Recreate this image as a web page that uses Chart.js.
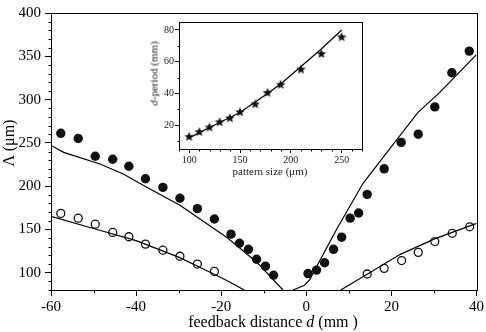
<!DOCTYPE html>
<html>
<head>
<meta charset="utf-8">
<script src="https://cdn.jsdelivr.net/npm/chart.js@4/dist/chart.umd.min.js"></script>
<style>
body { margin: 0; background: #fff; }
#wrap { position: relative; width: 486px; height: 332px; font-family: 'Liberation Serif', serif; color: #000; }
#inset { position: absolute; left: 145px; top: 15px; }
.lbl { position: absolute; white-space: nowrap; text-align: center; }
</style>
</head>
<body>
<div id="wrap">
  <canvas id="main" width="486" height="332"></canvas>
  <canvas id="inset" width="225" height="165"></canvas>
  <div class="lbl" style="left:173px;top:313px;width:200px;font-size:16px;line-height:18px">feedback distance <i>d</i> (mm )</div>
  <div class="lbl" style="left:-31px;top:134px;width:80px;font-size:16px;line-height:18px;transform:rotate(-90deg)">Λ (μm)</div>
  <div class="lbl" style="left:109px;top:67px;width:90px;font-size:11px;line-height:13px;color:#222;transform:rotate(-90deg)"><i>d</i>-period (mm)</div>
  <div class="lbl" style="left:220px;top:165px;width:100px;font-size:11px;line-height:13px;color:#222">pattern size (μm)</div>
</div>
<script>
// measured points, filled circles
var filledX = [-57.7, -53.6, -49.6, -45.5, -41.7, -37.8, -33.7, -29.7, -25.6, -21.6, -17.7, -15.7, -13.6, -11.7, -9.6, -7.7,
               0.4, 2.4, 4.3, 6.4, 8.3, 10.3, 12.3, 14.3, 18.3, 22.3, 26.3, 30.2, 34.2, 38.3];
var filledY = [261, 255, 234.5, 231, 223, 208.5, 198.5, 186, 174, 162, 144.5, 134, 127, 115.5, 107.5, 97,
               99, 103, 111.5, 127, 141, 163, 169, 190.5, 220, 250.5, 260, 291.5, 331, 356];

// open circles
var openX = [-57.7, -53.6, -49.6, -45.5, -41.7, -37.8, -33.7, -29.7, -25.6, -21.6,
             14.3, 18.3, 22.4, 26.3, 30.2, 34.3, 38.4];
var openY = [168.5, 163, 156, 146.5, 141.5, 133, 126, 119, 110, 101.5,
             98.5, 105, 114, 123.5, 136, 145.5, 153];

// theory curves
var fitFilledLeftX = [-60, -57, -48.5, -43, -37.6, -29.7, -18.5, -11.7, -5.5];
var fitFilledLeftY = [247, 239, 225.5, 214, 199, 178, 140, 112.4, 80];
var fitFilledRightX = [-3.1, -0.4, 0.8, 7, 13.3, 18, 26.2, 31.3, 40];
var fitFilledRightY = [80, 85.5, 92, 149, 203, 233, 285, 308, 352];
var fitOpenLeftX = [-60, -50, -40, -30, -22, -18, -14.6];
var fitOpenLeftY = [165, 151, 137, 118, 99, 89.3, 80];
var fitOpenRightX = [8.1, 14.3, 22.1, 30.3, 40];
var fitOpenRightY = [80, 98.2, 121.2, 139.3, 157];

// inset
var sizeX = [100, 110, 120, 130, 140, 150, 165, 177, 190, 210, 230, 250];
var periodY = [12.7, 15.7, 18.6, 21.9, 24.4, 28.2, 33.2, 40.4, 45.5, 55.1, 64.9, 75.4];
var periodFitX = [100, 120, 150, 177, 190, 210, 230, 250];
var periodFitY = [12, 18.5, 28, 40, 46, 57, 68, 80];

function pts(xs, ys) {
    var out = [];
    for (var i = 0; i < xs.length; i++) out.push({ x: xs[i], y: ys[i] });
    return out;
}

var serif = 'Liberation Serif';

// box round the plot and short minor ticks
var frameAndMinor = {
    id: 'frameAndMinor',
    afterDraw: function (chart, args, opts) {
        var ctx = chart.ctx, a = chart.chartArea;
        var xs = chart.scales.x, ys = chart.scales.y;
        ctx.save();
        ctx.strokeStyle = '#000';
        ctx.lineWidth = 1;
        ctx.strokeRect(Math.round(a.left) + 0.5, Math.round(a.top) + 0.5,
                       Math.round(a.right - a.left), Math.round(a.bottom - a.top));
        ctx.beginPath();
        xs.ticks.forEach(function (t) {
            if (t.value % opts.xMajor === 0) return;
            var p = Math.round(xs.getPixelForValue(t.value)) + 0.5;
            ctx.moveTo(p, Math.round(a.bottom) + 0.5);
            ctx.lineTo(p, Math.round(a.bottom) + 0.5 + opts.len);
        });
        ys.ticks.forEach(function (t) {
            if (t.value % opts.yMajor === 0) return;
            var p = Math.round(ys.getPixelForValue(t.value)) + 0.5;
            ctx.moveTo(Math.round(a.left) + 0.5, p);
            ctx.lineTo(Math.round(a.left) + 0.5 - opts.len, p);
        });
        ctx.stroke();
        ctx.restore();
    }
};

function majorColor(step) {
    return function (c) {
        return c.tick && c.tick.value % step === 0 ? '#000' : 'rgba(0,0,0,0)';
    };
}

// ticks on whole tens only, even when the axis ends are not
function tensBetween(lo, hi) {
    return function (s) {
        var t = [];
        for (var v = lo; v <= hi; v += 10) t.push({ value: v });
        s.ticks = t;
    };
}

function fitLine(xs, ys) {
    return { data: pts(xs, ys), showLine: true, borderColor: '#000', borderWidth: 1.2,
             pointRadius: 0, tension: 0, fill: false };
}

new Chart(document.getElementById('main'), {
    type: 'scatter',
    data: {
        datasets: [
            { data: pts(filledX, filledY), pointRadius: 4.7, backgroundColor: '#111', borderColor: '#111', borderWidth: 0 },
            { data: pts(openX, openY), pointRadius: 4, backgroundColor: 'rgba(0,0,0,0)', borderColor: '#111', borderWidth: 1.3 },
            fitLine(fitFilledLeftX, fitFilledLeftY),
            fitLine(fitFilledRightX, fitFilledRightY),
            fitLine(fitOpenLeftX, fitOpenLeftY),
            fitLine(fitOpenRightX, fitOpenRightY)
        ]
    },
    options: {
        responsive: false,
        animation: false,
        layout: { padding: { top: 12, right: 9, left: 0, bottom: 0 } },
        plugins: {
            legend: { display: false },
            tooltip: { enabled: false },
            frameAndMinor: { xMajor: 20, yMajor: 50, len: 3 }
        },
        scales: {
            x: {
                type: 'linear', min: -60, max: 40,
                border: { display: false },
                grid: { drawOnChartArea: false, tickLength: 6, tickColor: majorColor(20) },
                ticks: {
                    stepSize: 10, autoSkip: false, maxRotation: 0, padding: 2, color: '#000',
                    font: { family: serif, size: 15 },
                    callback: function (v) { return v % 20 === 0 ? String(v) : ''; }
                },
                afterFit: function (s) { s.height = 42; }
            },
            y: {
                type: 'linear', min: 80, max: 400,
                border: { display: false },
                grid: { drawOnChartArea: false, tickLength: 6, tickColor: majorColor(50) },
                ticks: {
                    stepSize: 10, autoSkip: false, padding: 4, color: '#000',
                    font: { family: serif, size: 15 },
                    callback: function (v) { return v % 50 === 0 ? String(v) : ''; }
                },
                afterFit: function (s) { s.width = 51; }
            }
        }
    },
    plugins: [frameAndMinor]
});

// filled five-point star for the inset markers
function makeStar(r) {
    var c = document.createElement('canvas');
    var s = Math.ceil(r * 2) + 2;
    c.width = s; c.height = s;
    var g = c.getContext('2d');
    g.beginPath();
    for (var i = 0; i < 10; i++) {
        var rad = i % 2 ? r * 0.45 : r;
        var ang = -Math.PI / 2 + i * Math.PI / 5;
        g.lineTo(s / 2 + rad * Math.cos(ang), s / 2 + rad * Math.sin(ang));
    }
    g.closePath();
    g.fillStyle = '#111';
    g.fill();
    return c;
}

new Chart(document.getElementById('inset'), {
    type: 'scatter',
    data: {
        datasets: [
            { data: pts(sizeX, periodY), pointStyle: makeStar(5), pointRadius: 5 },
            fitLine(periodFitX, periodFitY)
        ]
    },
    options: {
        responsive: false,
        animation: false,
        layout: { padding: { top: 6, right: 8, left: 0, bottom: 0 } },
        plugins: {
            legend: { display: false },
            tooltip: { enabled: false },
            frameAndMinor: { xMajor: 50, yMajor: 20, len: 2 }
        },
        scales: {
            x: {
                type: 'linear', min: 90, max: 270,
                border: { display: false },
                grid: { drawOnChartArea: false, tickLength: 4, tickColor: majorColor(50) },
                afterBuildTicks: tensBetween(90, 270),
                ticks: {
                    autoSkip: false, maxRotation: 0, padding: 1, color: '#222',
                    font: { family: serif, size: 10 },
                    callback: function (v) { return v % 50 === 0 ? String(v) : ''; }
                },
                afterFit: function (s) { s.height = 31; }
            },
            y: {
                type: 'linear', min: 5, max: 85,
                border: { display: false },
                grid: { drawOnChartArea: false, tickLength: 4, tickColor: majorColor(20) },
                afterBuildTicks: tensBetween(10, 80),
                ticks: {
                    autoSkip: false, padding: 1, color: '#222',
                    font: { family: serif, size: 10 },
                    callback: function (v) { return v % 20 === 0 ? String(v) : ''; }
                },
                afterFit: function (s) { s.width = 34; }
            }
        }
    },
    plugins: [frameAndMinor]
});
</script>
</body>
</html>
